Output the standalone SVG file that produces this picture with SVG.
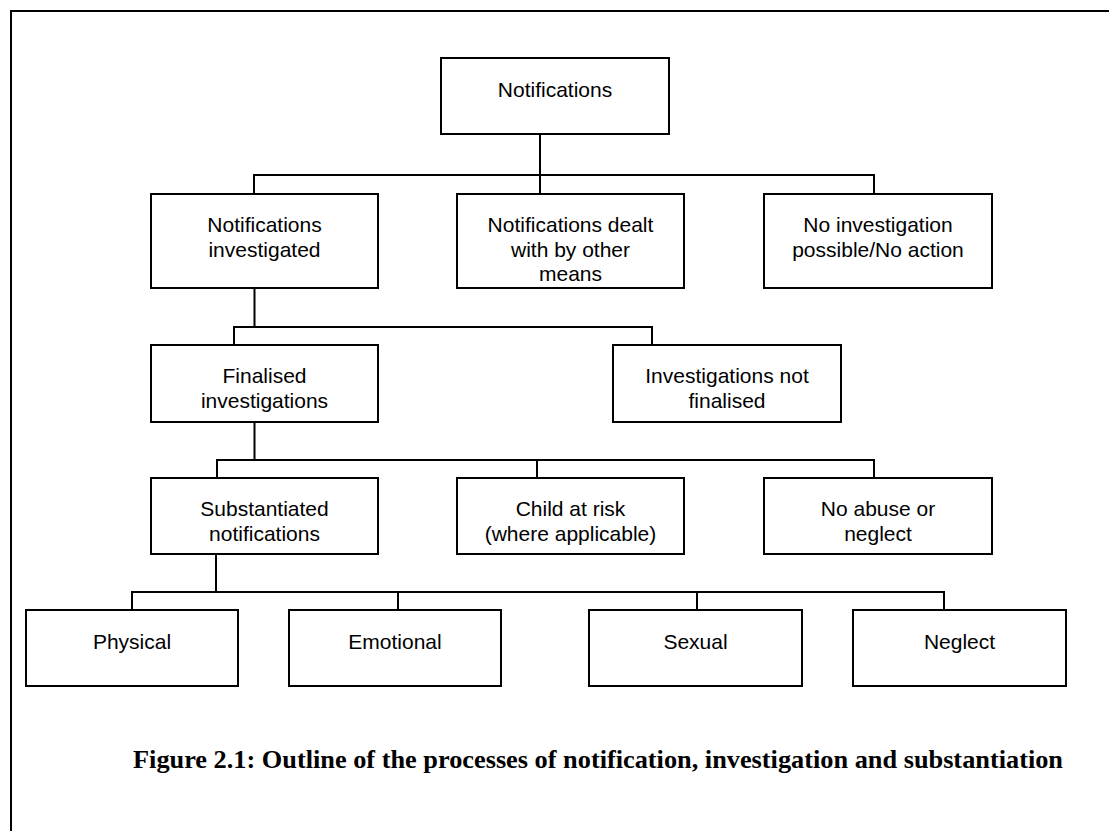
<svg xmlns="http://www.w3.org/2000/svg" width="1109" height="831" viewBox="0 0 1109 831">
<style>
.box{fill:#fff;stroke:#000;stroke-width:2}
.t{font-family:"Liberation Sans",Arial,sans-serif;font-size:21px;fill:#000;text-anchor:middle}
.c{fill:none;stroke:#000;stroke-width:2}
.cap{font-family:"Liberation Serif","Times New Roman",serif;font-size:26px;font-weight:bold;fill:#000}
</style>
<rect width="1109" height="831" fill="#fff"/>
<path class="c" d="M11,831 V11 H1109"/>
<g id="connectors">
<path class="c" d="M540,134 V194 M254,194 V175 H874 V194"/>
<path class="c" d="M254.5,288 V327 M234,345 V327 H652 V345"/>
<path class="c" d="M254.5,422 V460 M217,478 V460 H874 V478 M537,460 V478"/>
<path class="c" d="M216,554 V592 M132,610 V592 H944 V610 M398,592 V610 M697,592 V610"/>
</g>
<g id="n-notifications"><rect class="box" x="441" y="58" width="228" height="76"/><text class="t" x="555" y="97">Notifications</text></g>
<g id="n-investigated"><rect class="box" x="151" y="194" width="227" height="94"/><text class="t" x="264.5" y="232">Notifications</text><text class="t" x="264.5" y="257">investigated</text></g>
<g id="n-other"><rect class="box" x="457" y="194" width="227" height="94"/><text class="t" x="570.5" y="232">Notifications dealt</text><text class="t" x="570.5" y="257">with by other</text><text class="t" x="570.5" y="281">means</text></g>
<g id="n-noinv"><rect class="box" x="764" y="194" width="228" height="94"/><text class="t" x="878" y="232">No investigation</text><text class="t" x="878" y="257">possible/No action</text></g>
<g id="n-finalised"><rect class="box" x="151" y="345" width="227" height="77"/><text class="t" x="264.5" y="383">Finalised</text><text class="t" x="264.5" y="408">investigations</text></g>
<g id="n-notfinalised"><rect class="box" x="613" y="345" width="228" height="77"/><text class="t" x="727" y="383">Investigations not</text><text class="t" x="727" y="408">finalised</text></g>
<g id="n-substantiated"><rect class="box" x="151" y="478" width="227" height="76"/><text class="t" x="264.5" y="516">Substantiated</text><text class="t" x="264.5" y="541">notifications</text></g>
<g id="n-risk"><rect class="box" x="457" y="478" width="227" height="76"/><text class="t" x="570.5" y="516">Child at risk</text><text class="t" x="570.5" y="541">(where applicable)</text></g>
<g id="n-noabuse"><rect class="box" x="764" y="478" width="228" height="76"/><text class="t" x="878" y="516">No abuse or</text><text class="t" x="878" y="541">neglect</text></g>
<g id="n-physical"><rect class="box" x="26" y="610" width="212" height="76"/><text class="t" x="132" y="649">Physical</text></g>
<g id="n-emotional"><rect class="box" x="289" y="610" width="212" height="76"/><text class="t" x="395" y="649">Emotional</text></g>
<g id="n-sexual"><rect class="box" x="589" y="610" width="213" height="76"/><text class="t" x="695.5" y="649">Sexual</text></g>
<g id="n-neglect"><rect class="box" x="853" y="610" width="213" height="76"/><text class="t" x="959.5" y="649">Neglect</text></g>
<text class="cap" x="133" y="768" textLength="930" lengthAdjust="spacingAndGlyphs">Figure 2.1: Outline of the processes of notification, investigation and substantiation</text>
</svg>
